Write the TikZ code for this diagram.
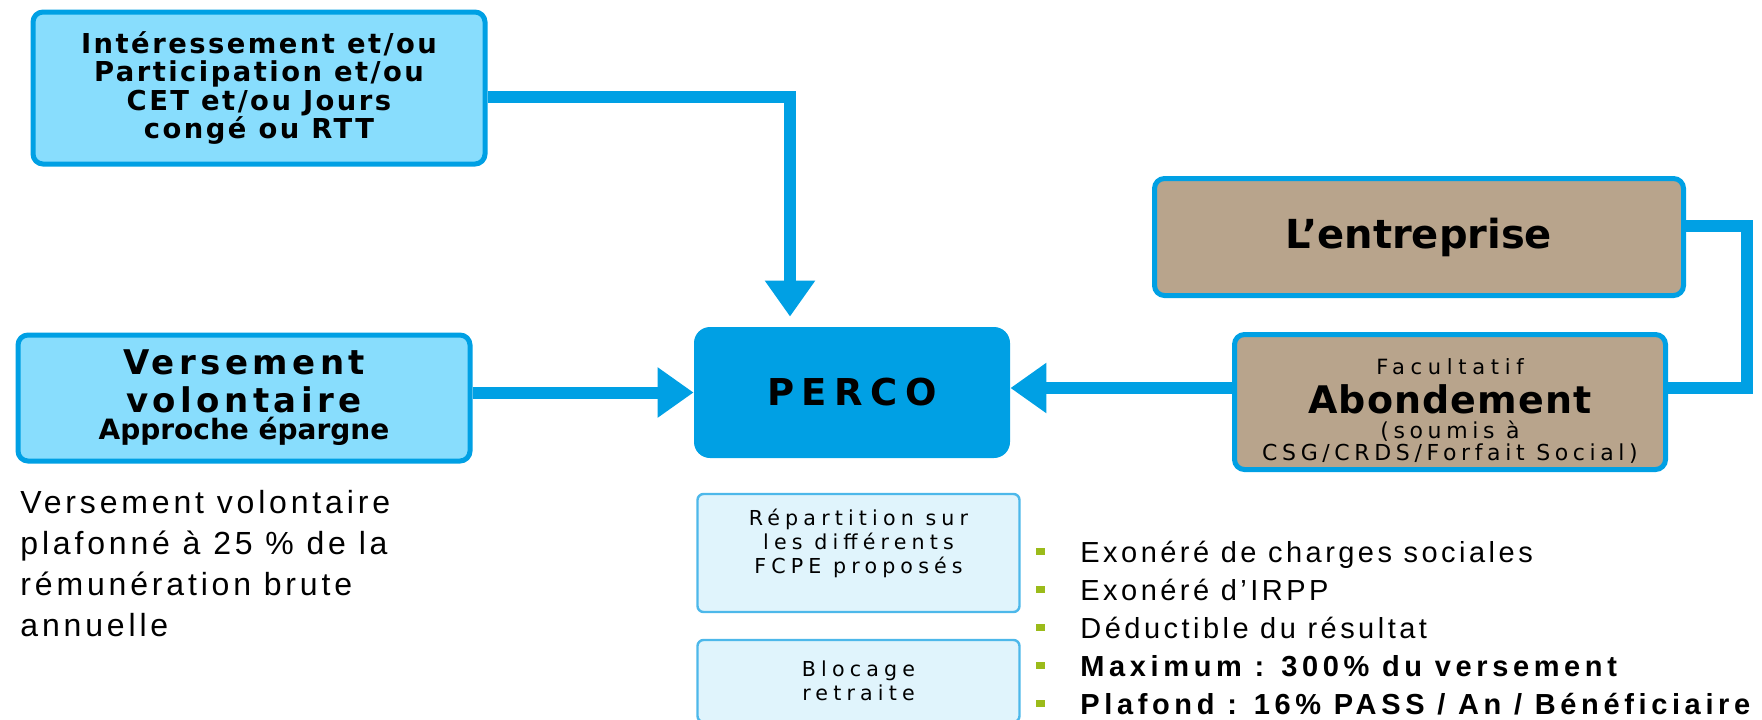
\documentclass[tikz,border=0pt]{standalone}
\usepackage{fontspec}
\setmainfont{Liberation Sans}
\newfontfamily\verdfont{DejaVu Sans}
\usetikzlibrary{arrows.meta}
\definecolor{percoblue}{HTML}{00A0E4}
\definecolor{skyfill}{HTML}{88DDFD}
\definecolor{palefill}{HTML}{E0F4FC}
\definecolor{paleline}{HTML}{4DB8EA}
\definecolor{tanfill}{HTML}{B8A48C}
\definecolor{pucegreen}{HTML}{9BBB1A}
\newcommand{\puceq}{\textcolor{pucegreen}{\rule[4pt]{4.5pt}{3.5pt}}\hspace{17.5pt}}
\tikzset{
  bigbox/.style={rectangle, rounded corners=5pt, draw=percoblue, line width=2.5pt, fill=skyfill, align=center, inner sep=2pt},
  tanbox/.style={bigbox, fill=tanfill},
  percobox/.style={rectangle, rounded corners=8pt, fill=percoblue, align=center},
  smallbox/.style={rectangle, rounded corners=3pt, draw=paleline, line width=1.2pt, fill=palefill, align=center,
    font=\verdfont\addfontfeatures{LetterSpace=25}\fontsize{10.3}{12}\selectfont},
  link/.style={draw=percoblue, line width=6pt},
  flow/.style={link, -{Triangle[width=24pt,length=18pt]}},
}
\begin{document}
\begin{tikzpicture}[x=0.5pt, y=-0.5pt]
  \useasboundingbox (0,0) rectangle (1762,719);
  % boxes
  \node[bigbox, minimum width=226pt, minimum height=76pt,
    font=\verdfont\bfseries\addfontfeatures{LetterSpace=9}\fontsize{13.7}{14.3}\selectfont] (inter) at (259,88)
    {Intéressement et/ou\\Participation et/ou\\CET et/ou Jours\\congé ou RTT};
  \node[bigbox, minimum width=226pt, minimum height=63pt,
    font=\verdfont\bfseries\addfontfeatures{LetterSpace=13}\fontsize{17}{19}\selectfont] (vers) at (244,398)
    {Versement\\volontaire\\[-5.5pt]{\addfontfeatures{LetterSpace=0}\fontsize{14}{14}\selectfont Approche épargne}};
  \node[percobox, minimum width=158pt, minimum height=65.5pt,
    font=\verdfont\bfseries\addfontfeatures{LetterSpace=20}\fontsize{18.5}{20}\selectfont] (perco) at (852,392.5) {PERCO};
  \node[tanbox, minimum width=264.5pt, minimum height=58.5pt,
    font=\verdfont\bfseries\fontsize{20}{22}\selectfont] (ent) at (1419,237) {L’entreprise};
  \node[tanbox, minimum width=215.5pt, minimum height=67.5pt,
    font=\verdfont\addfontfeatures{LetterSpace=21}\fontsize{11}{11}\selectfont] (abond) at (1450,402)
    {\mbox{}\\[6pt]{\addfontfeatures{LetterSpace=27}\fontsize{10.5}{11}\selectfont Facultatif}\\[3.5pt]
     {\bfseries\addfontfeatures{LetterSpace=3}\fontsize{19}{19}\selectfont Abondement}\\[1.5pt](soumis à\\CSG/CRDS/Forfait Social)};
  \node[smallbox, minimum width=161pt, minimum height=59pt] (rep) at (858.5,553)
    {Répartition sur\\les différents\\FCPE proposés\\[0pt]\mbox{}};
  \node[smallbox, minimum width=161pt, minimum height=41pt] (bloc) at (858.5,681) {Blocage\\retraite};
  % texts
  \node[anchor=north west, align=left, inner sep=0pt,
    font=\addfontfeatures{LetterSpace=12}\fontsize{16}{20.5}\selectfont] (note) at (20,490)
    {Versement volontaire\\plafonné à 25 \% de la\\rémunération brute\\annuelle};
  \node[anchor=north west, align=left, inner sep=0pt,
    font=\addfontfeatures{LetterSpace=12}\fontsize{14.5}{19}\selectfont] (liste) at (1036,541)
    {\puceq Exonéré de charges sociales\\\puceq Exonéré d'IRPP\\\puceq Déductible du résultat\\
     \puceq{\bfseries\addfontfeatures{LetterSpace=16}Maximum : 300\% du versement}\\
     \puceq{\bfseries\addfontfeatures{LetterSpace=16}Plafond : 16\% PASS / An / Bénéficiaire}};
  % connectors
  \coordinate (k1) at (790,97);
  \coordinate (k2) at (1747,226);
  \coordinate (k3) at (1747,388);
  \draw[flow, shorten >=5pt] (inter.east |- k1) -- (k1) -- (k1 |- perco.north);
  \draw[flow] (vers.east |- perco.west) -- (perco.west);
  \draw[link] (ent.east |- k2) -- (k2) -- (k3) -- (abond.east |- k3);
  \draw[flow] (abond.west |- k3) -- (perco.east |- k3);
\end{tikzpicture}
\end{document}
